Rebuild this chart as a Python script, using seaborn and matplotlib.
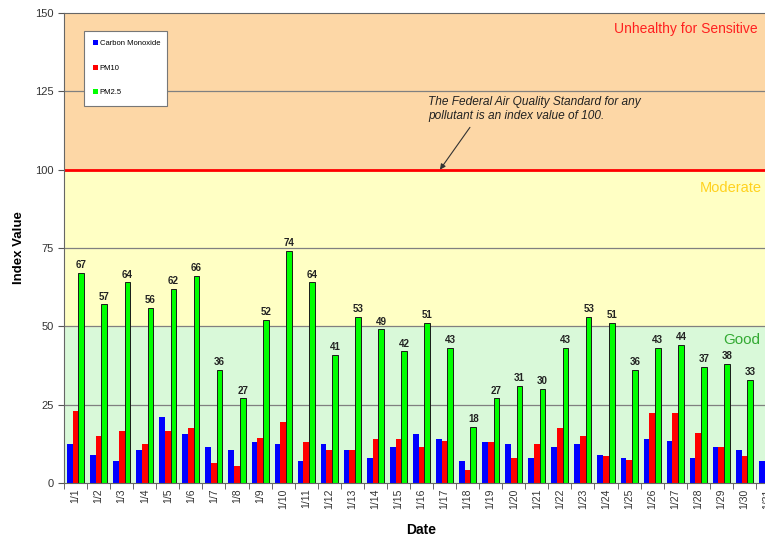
import matplotlib
matplotlib.use("Agg")
import matplotlib.pyplot as plt
import matplotlib.ticker as mticker
import numpy as np
import pandas as pd
import seaborn as sns

# Index values (January, daily)
dates = ["1/1", "1/2", "1/3", "1/4", "1/5", "1/6", "1/7", "1/8", "1/9", "1/10",
         "1/11", "1/12", "1/13", "1/14", "1/15", "1/16", "1/17", "1/18", "1/19", "1/20",
         "1/21", "1/22", "1/23", "1/24", "1/25", "1/26", "1/27", "1/28", "1/29", "1/30", "1/31"]
carbon_monoxide = [12.5, 9, 7, 10.5, 21, 15.5, 11.5, 10.5, 13, 12.5,
                   7, 12.5, 10.5, 8, 11.5, 15.5, 14, 7, 13, 12.5,
                   8, 11.5, 12.5, 9, 8, 14, 13.5, 8, 11.5, 10.5, 7]
pm10 = [23, 15, 16.5, 12.5, 16.5, 17.5, 6.5, 5.5, 14.5, 19.5,
        13, 10.5, 10.5, 14, 14, 11.5, 13.5, 4, 13, 8,
        12.5, 17.5, 15, 8.5, 7.5, 22.5, 22.5, 16, 11.5, 8.5, 8.5]
pm25 = [67, 57, 64, 56, 62, 66, 36, 27, 52, 74,
        64, 41, 53, 49, 42, 51, 43, 18, 27, 31,
        30, 43, 53, 51, 36, 43, 44, 37, 38, 33, 30]
series_names = ["Carbon Monoxide", "PM10", "PM2.5"]
series_colors = ["#0000FF", "#FF0000", "#00FF00"]

df = pd.DataFrame({"Date": dates, "Carbon Monoxide": carbon_monoxide,
                   "PM10": pm10, "PM2.5": pm25})
df_long = df.melt(id_vars="Date", var_name="Pollutant", value_name="Index")

plt.rcParams["font.family"] = ["Liberation Sans", "DejaVu Sans"]

fig = plt.figure(figsize=(7.65, 5.41), dpi=100)
# the plot area runs past the right edge, like the cropped original
ax = fig.add_axes([64 / 765, 58 / 541, 715 / 765, 470 / 541])

# AQI bands
ax.axhspan(0, 50, color="#d9f9d9", zorder=0)
ax.axhspan(50, 100, color="#ffffc4", zorder=0)
ax.axhspan(100, 150, color="#fdd7a6", zorder=0)
for y in [25, 50, 75, 125]:
    ax.axhline(y, color="#808080", lw=0.9, zorder=0.5)
ax.axhline(100, color="#ff0000", lw=2, zorder=0.6)

sns.barplot(data=df_long, x="Date", y="Index", hue="Pollutant",
            hue_order=series_names, palette=series_colors, order=dates,
            width=0.74, saturation=1, ax=ax, zorder=2)

for bar in ax.containers[2]:
    bar.set_edgecolor("#1a1a1a")
    bar.set_linewidth(0.7)

# last day is cut off by the crop, its label is not visible
value_labels = [str(v) for v in pm25[:-1]] + [""]
ax.bar_label(ax.containers[2], labels=value_labels, padding=2,
             fontsize=7, fontweight="bold", color="#222222")

ax.set_xlim(-0.5, len(dates) - 0.5)
ax.set_ylim(0, 150)
ax.set_yticks([0, 25, 50, 75, 100, 125, 150])
ax.tick_params(axis="y", labelsize=8, labelcolor="#333333", length=4, color="#555555")
ax.tick_params(axis="x", which="major", labelsize=7.5, labelcolor="#333333",
               length=0, rotation=90, pad=4)
ax.xaxis.set_minor_locator(mticker.FixedLocator(np.arange(-0.5, len(dates), 1)))
ax.tick_params(axis="x", which="minor", length=4, color="#555555")

for side in ["top", "left", "bottom"]:
    ax.spines[side].set_color("#666666")
ax.spines["right"].set_visible(False)

ax.set_xlabel("Date", fontsize=10, fontweight="bold", labelpad=10)
ax.set_ylabel("Index Value", fontsize=9.5, fontweight="bold", labelpad=7)

# band labels, right aligned to the visible edge
fig.text(758 / 765, 1 - 29 / 541, "Unhealthy for Sensitive", color="#ff2020",
         fontsize=10, ha="right", va="center")
fig.text(762 / 765, 1 - 188 / 541, "Moderate", color="#ffd21f",
         fontsize=10.5, ha="right", va="center")
fig.text(760 / 765, 1 - 340 / 541, "Good", color="#33aa33",
         fontsize=11, ha="right", va="center")

# standard annotation
ax.text(15.28, 123.5, "The Federal Air Quality Standard for any\npollutant is an index value of 100.",
        fontsize=8.6, fontstyle="italic", color="#222222", va="top", ha="left",
        linespacing=1.2)
ax.annotate("", xy=(15.8, 100), xytext=(17.1, 113.5),
            arrowprops=dict(arrowstyle="-|>", color="#333333", lw=0.8,
                            mutation_scale=8, shrinkA=0, shrinkB=0))

leg = ax.legend(loc="upper left", bbox_to_anchor=(80 / 765, 1 - 99 / 541, 91 / 765, 72 / 541),
                bbox_transform=fig.transFigure, mode="expand", fontsize=5.5,
                labelspacing=2.3, handlelength=0.6, handleheight=0.6,
                handletextpad=0.3, borderpad=1.2, fancybox=False, framealpha=1,
                edgecolor="#777777", title=None)
leg.get_frame().set_linewidth(0.8)

fig.savefig("out.png", dpi=100)
